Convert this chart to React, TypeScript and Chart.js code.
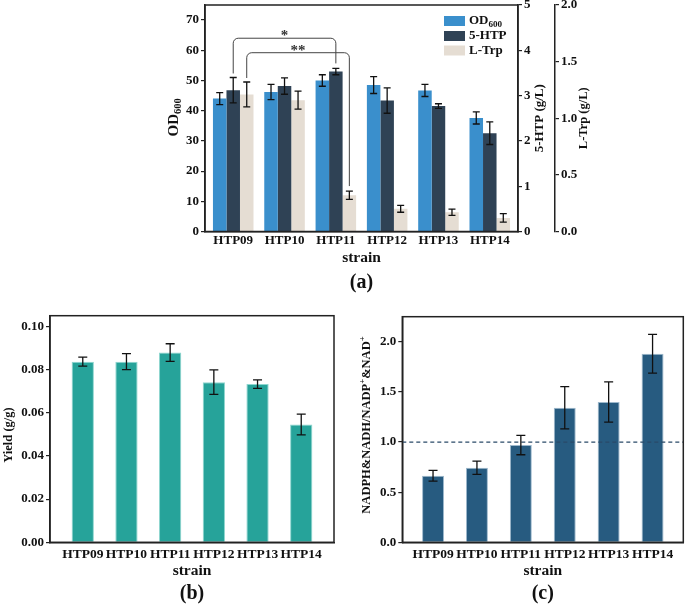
import React, { useEffect, useRef } from "react";
import { Chart, registerables } from "chart.js";

Chart.register(...registerables);

const FONT = '"Liberation Serif", "Times New Roman", Times, serif';
const INK = "#111";

// ---------- data ----------
const strains = ["HTP09", "HTP10", "HTP11", "HTP12", "HTP13", "HTP14"];

// panel (a)
const od600 = [44.0, 46.2, 50.0, 48.5, 46.7, 37.6];
const od600Err = [2.0, 2.5, 1.9, 2.8, 2.0, 2.0];
const htp5 = [3.12, 3.21, 3.53, 2.89, 2.77, 2.17];
const htp5Err = [0.28, 0.18, 0.07, 0.28, 0.05, 0.25];
const ltrp = [1.21, 1.16, 0.32, 0.2, 0.17, 0.12];
const ltrpErr = [0.11, 0.08, 0.037, 0.03, 0.027, 0.037];
const odMax = 75;
const odStep = 10;
const htpMax = 5;
const htpStep = 1;
const trpMax = 2;
const trpStep = 0.5;

// significance brackets (panel a)
const sigLabels = ["*", "**"];
const sigDataset = [1, 2];
const sigFrom = [0, 0];
const sigTo = [2, 2];
const sigTopOD = [64, 59.2];

// panel (b)
const yieldVals = [0.0837, 0.0837, 0.0879, 0.0742, 0.0733, 0.0546];
const yieldErr = [0.0021, 0.0037, 0.0041, 0.0057, 0.002, 0.0048];
const yieldMax = 0.105;
const yieldStep = 0.02;

// panel (c)
const ratioVals = [0.664, 0.744, 0.97, 1.342, 1.399, 1.88];
const ratioErr = [0.053, 0.066, 0.097, 0.21, 0.2, 0.193];
const ratioMax = 2.25;
const ratioStep = 0.5;
const ratioRef = 1.0;

// ---------- helpers ----------
type Seg = { t: string; k?: "sub" | "sup" };

function fontFor(size: number, k?: string) {
  return `bold ${k ? size * 0.7 : size}px ${FONT}`;
}

function drawRich(
  ctx: CanvasRenderingContext2D,
  segs: Seg[],
  x: number,
  y: number,
  size: number,
  rot = 0,
  align: "center" | "left" = "center"
) {
  ctx.save();
  ctx.translate(x, y);
  ctx.rotate(rot);
  ctx.fillStyle = INK;
  ctx.textBaseline = "middle";
  ctx.textAlign = "left";
  let total = 0;
  for (const s of segs) {
    ctx.font = fontFor(size, s.k);
    total += ctx.measureText(s.t).width;
  }
  let cx = align === "center" ? -total / 2 : 0;
  for (const s of segs) {
    ctx.font = fontFor(size, s.k);
    const dy = s.k === "sub" ? size * 0.28 : s.k === "sup" ? -size * 0.33 : 0;
    ctx.fillText(s.t, cx, dy);
    cx += ctx.measureText(s.t).width;
  }
  ctx.restore();
}

function zeroPad(s: any) {
  s.paddingTop = 0;
  s.paddingBottom = 0;
  s.paddingLeft = 0;
  s.paddingRight = 0;
}

function tickFont(size: number) {
  return { family: FONT, size, weight: "bold" as const };
}

const errorBarsPlugin = {
  id: "errorBars",
  afterDatasetsDraw(chart: any, _a: any, opts: any) {
    const ctx = chart.ctx as CanvasRenderingContext2D;
    const cap = (opts && opts.cap) || 8;
    ctx.save();
    ctx.strokeStyle = INK;
    ctx.lineWidth = 1.3;
    chart.data.datasets.forEach((ds: any, di: number) => {
      const errs = ds.errors;
      if (!errs) return;
      const meta = chart.getDatasetMeta(di);
      const ys = chart.scales[meta.yAxisID];
      meta.data.forEach((el: any, i: number) => {
        const v = ds.data[i];
        const e = errs[i];
        const yt = ys.getPixelForValue(v + e);
        const yb = ys.getPixelForValue(v - e);
        ctx.beginPath();
        ctx.moveTo(el.x, yt);
        ctx.lineTo(el.x, yb);
        ctx.moveTo(el.x - cap / 2, yt);
        ctx.lineTo(el.x + cap / 2, yt);
        ctx.moveTo(el.x - cap / 2, yb);
        ctx.lineTo(el.x + cap / 2, yb);
        ctx.stroke();
      });
    });
    ctx.restore();
  },
};

const framePlugin = {
  id: "frame",
  afterDraw(chart: any) {
    const { ctx, chartArea: a } = chart;
    ctx.save();
    ctx.strokeStyle = "#222";
    ctx.lineWidth = 1.5;
    ctx.strokeRect(a.left, a.top, a.right - a.left, a.bottom - a.top);
    ctx.restore();
  },
};

function xScale(start: number, range: number, height: number, size: number, pad: number) {
  return {
    type: "category",
    offset: true,
    grid: { display: false, drawTicks: false, tickLength: 0 },
    border: { display: true, color: "#222", width: 1.5 },
    ticks: {
      font: tickFont(size),
      color: INK,
      padding: pad,
      maxRotation: 0,
      minRotation: 0,
      autoSkip: false,
    },
    afterBuildTicks: (s: any) => {
      s._startValue = start;
      s._valueRange = range;
    },
    afterFit: (s: any) => {
      s.height = height;
      zeroPad(s);
    },
  };
}

function yScale(
  position: "left" | "right",
  max: number,
  step: number,
  digits: number,
  width: number,
  size = 13
) {
  return {
    position,
    min: 0,
    max,
    ticks: {
      stepSize: step,
      includeBounds: false,
      font: tickFont(size),
      color: INK,
      padding: 2,
      callback: (v: any) => Number(v).toFixed(digits),
    },
    grid: { drawOnChartArea: false, drawTicks: true, tickLength: 4, color: "#222", lineWidth: 1.2 },
    border: { display: true, color: "#222", width: 1.5 },
    afterFit: (s: any) => {
      s.width = width;
      zeroPad(s);
    },
  };
}

// ---------- panel (a) annotations ----------
const panelAPlugin = {
  id: "panelA",
  afterDraw(chart: any) {
    const ctx = chart.ctx as CanvasRenderingContext2D;
    const a = chart.chartArea;
    const ys = chart.scales.y;
    const midY = (a.top + a.bottom) / 2;

    // significance brackets
    ctx.save();
    ctx.strokeStyle = "#444";
    ctx.lineWidth = 1;
    sigLabels.forEach((lab, k) => {
      const di = sigDataset[k];
      const meta = chart.getDatasetMeta(di);
      const ds = chart.data.datasets[di];
      const dsScale = chart.scales[meta.yAxisID];
      const i1 = sigFrom[k];
      const i2 = sigTo[k];
      const x1 = meta.data[i1].x;
      const x2 = meta.data[i2].x;
      const yTop = ys.getPixelForValue(sigTopOD[k]);
      const l1 = dsScale.getPixelForValue(ds.data[i1] + ds.errors[i1]) - 4;
      const l2 = dsScale.getPixelForValue(ds.data[i2] + ds.errors[i2]) - 5;
      const r = 5;
      ctx.beginPath();
      ctx.moveTo(x1, l1);
      ctx.lineTo(x1, yTop + r);
      ctx.arcTo(x1, yTop, x1 + r, yTop, r);
      ctx.lineTo(x2 - r, yTop);
      ctx.arcTo(x2, yTop, x2, yTop + r, r);
      ctx.lineTo(x2, l2);
      ctx.stroke();
      ctx.fillStyle = "#333";
      ctx.font = `bold 15px ${FONT}`;
      ctx.textAlign = "center";
      ctx.textBaseline = "alphabetic";
      ctx.fillText(lab, (x1 + x2) / 2, yTop + 2);
    });
    ctx.restore();

    // legend
    const lx = a.right - 74;
    const rows = [11, 26, 40.5];
    const names: Seg[][] = [
      [{ t: "OD" }, { t: "600", k: "sub" }],
      [{ t: "5-HTP" }],
      [{ t: "L-Trp" }],
    ];
    chart.data.datasets.forEach((ds: any, i: number) => {
      ctx.fillStyle = ds.backgroundColor;
      ctx.fillRect(lx, a.top + rows[i], 21, 10);
      drawRich(ctx, names[i], lx + 25, a.top + rows[i] + 5, 13, 0, "left");
    });

    // axis titles
    drawRich(ctx, [{ t: "OD" }, { t: "600", k: "sub" }], a.left - 31, midY - 1, 15, -Math.PI / 2);
    drawRich(ctx, [{ t: "5-HTP (g/L)" }], a.right + 22, midY, 13, -Math.PI / 2);
    drawRich(ctx, [{ t: "L-Trp (g/L)" }], a.right + 66, midY, 12.5, -Math.PI / 2);
    const cx = (a.left + a.right) / 2;
    drawRich(ctx, [{ t: "strain" }], cx, a.bottom + 26, 15.5);
    drawRich(ctx, [{ t: "(a)" }], cx, a.bottom + 51, 20);
  },
};

function makePanelTitles(id: string, yTitle: Seg[], yTitleDX: number, yTitleDY: number, caption: string) {
  return {
    id,
    afterDraw(chart: any) {
      const ctx = chart.ctx as CanvasRenderingContext2D;
      const a = chart.chartArea;
      const midY = (a.top + a.bottom) / 2;
      drawRich(ctx, yTitle, a.left - yTitleDX, midY + yTitleDY, 12.5, -Math.PI / 2);
      const cx = (a.left + a.right) / 2;
      drawRich(ctx, [{ t: "strain" }], cx, a.bottom + 29, 15.5);
      drawRich(ctx, [{ t: caption }], cx, a.bottom + 52, 20);
    },
  };
}

const refLinePlugin = {
  id: "refLine",
  afterDatasetsDraw(chart: any) {
    const ctx = chart.ctx as CanvasRenderingContext2D;
    const a = chart.chartArea;
    const y = chart.scales.y.getPixelForValue(ratioRef);
    ctx.save();
    ctx.strokeStyle = "#2a4a68";
    ctx.lineWidth = 1.3;
    ctx.setLineDash([4, 3]);
    ctx.beginPath();
    ctx.moveTo(a.left, y);
    ctx.lineTo(a.right, y);
    ctx.stroke();
    ctx.restore();
  },
};

// ---------- component ----------
export default function App() {
  const refA = useRef<HTMLCanvasElement | null>(null);
  const refB = useRef<HTMLCanvasElement | null>(null);
  const refC = useRef<HTMLCanvasElement | null>(null);

  useEffect(() => {
    const charts: Chart[] = [];

    const chartA = new Chart(refA.current as HTMLCanvasElement, {
      type: "bar",
      data: {
        labels: strains,
        datasets: [
          { label: "OD600", data: od600, errors: od600Err, backgroundColor: "#3A8FCC", yAxisID: "y" } as any,
          { label: "5-HTP", data: htp5, errors: htp5Err, backgroundColor: "#2F4255", yAxisID: "y2" } as any,
          { label: "L-Trp", data: ltrp, errors: ltrpErr, backgroundColor: "#E5DDD3", yAxisID: "y3" } as any,
        ],
      },
      options: {
        responsive: false,
        animation: false,
        layout: { padding: { left: 0, top: 5, right: 25, bottom: 0 } },
        datasets: { bar: { categoryPercentage: 0.79, barPercentage: 1 } },
        plugins: { legend: { display: false }, tooltip: { enabled: false }, errorBars: { cap: 7 } } as any,
        scales: {
          x: xScale(-0.55, 6.1, 68.5, 13, 1) as any,
          y: yScale("left", odMax, odStep, 0, 105) as any,
          y2: yScale("right", htpMax, htpStep, 0, 37) as any,
          y3: yScale("right", trpMax, trpStep, 1, 60) as any,
        },
      },
      plugins: [errorBarsPlugin, framePlugin, panelAPlugin] as any,
    });
    charts.push(chartA);

    const chartB = new Chart(refB.current as HTMLCanvasElement, {
      type: "bar",
      data: {
        labels: strains,
        datasets: [
          {
            label: "Yield",
            data: yieldVals,
            errors: yieldErr,
            backgroundColor: "#26A39A",
            borderColor: "#8ed6cf",
            borderWidth: 1,
          } as any,
        ],
      },
      options: {
        responsive: false,
        animation: false,
        layout: { padding: { left: 0, top: 10.7, right: 8, bottom: 0 } },
        datasets: { bar: { categoryPercentage: 0.51, barPercentage: 1 } },
        plugins: { legend: { display: false }, tooltip: { enabled: false }, errorBars: { cap: 9 } } as any,
        scales: {
          x: xScale(-0.75, 6.5, 62.7, 13.5, 4) as any,
          y: yScale("left", yieldMax, yieldStep, 2, 50) as any,
        },
      },
      plugins: [errorBarsPlugin, framePlugin, makePanelTitles("panelB", [{ t: "Yield (g/g)" }], 41, 6, "(b)")] as any,
    });
    charts.push(chartB);

    const chartC = new Chart(refC.current as HTMLCanvasElement, {
      type: "bar",
      data: {
        labels: strains,
        datasets: [
          {
            label: "NADPH&NADH/NADP+&NAD+",
            data: ratioVals,
            errors: ratioErr,
            backgroundColor: "#275B80",
            borderColor: "#9db8cc",
            borderWidth: 1,
          } as any,
        ],
      },
      options: {
        responsive: false,
        animation: false,
        layout: { padding: { left: 0, top: 11.7, right: 1.7, bottom: 0 } },
        datasets: { bar: { categoryPercentage: 0.5, barPercentage: 1 } },
        plugins: { legend: { display: false }, tooltip: { enabled: false }, errorBars: { cap: 9 } } as any,
        scales: {
          x: xScale(-0.7, 6.4, 62.7, 13.5, 4) as any,
          y: yScale("left", ratioMax, ratioStep, 1, 59.3) as any,
        },
      },
      plugins: [
        refLinePlugin,
        errorBarsPlugin,
        framePlugin,
        makePanelTitles(
          "panelC",
          [{ t: "NADPH&NADH/NADP" }, { t: "+", k: "sup" }, { t: "&NAD" }, { t: "+", k: "sup" }],
          35.6,
          -4.5,
          "(c)"
        ),
      ] as any,
    });
    charts.push(chartC);

    return () => {
      charts.forEach((c) => c.destroy());
    };
  }, []);

  return (
    <div style={{ position: "absolute", left: 0, top: 0, width: 685, height: 605, background: "#fff" }}>
      <canvas ref={refA} width={540} height={300} style={{ position: "absolute", left: 100, top: 0, width: 540, height: 300 }} />
      <canvas ref={refB} width={342} height={300} style={{ position: "absolute", left: 0, top: 305, width: 342, height: 300 }} />
      <canvas ref={refC} width={342} height={300} style={{ position: "absolute", left: 343, top: 305, width: 342, height: 300 }} />
    </div>
  );
}
